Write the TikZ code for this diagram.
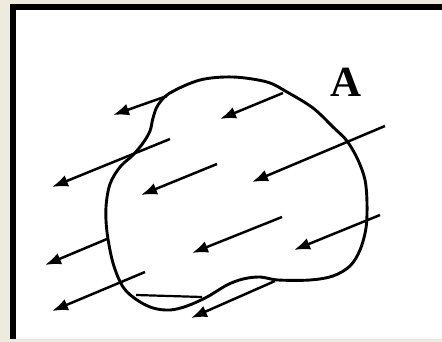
\documentclass[tikz,border=0pt]{standalone}
\usepackage{fontspec}
\setmainfont{Liberation Serif}
\usetikzlibrary{arrows.meta}
\definecolor{beige}{RGB}{237,234,222}
\tikzset{
  arr/.style={-{Latex[length=16pt,width=12pt]}, line width=2.5pt, black},
  outline/.style={line width=2.9pt, black, line join=round}
}
\begin{document}
\begin{tikzpicture}[x=1pt,y=-1pt]
\useasboundingbox (0,0) rectangle (442,342);
\fill[beige] (0,0) rectangle (442,342);
\fill[white] (10,4) rectangle (442,339);
\fill[black] (10,4) rectangle (16,339);
\fill[black] (10,4) rectangle (442,10);
% outline
\draw[outline] plot[smooth cycle, tension=0.55] coordinates {
(233,77) (267,82) (287,92) (313,108) (333,127) (347,141) (358,160) (365,180)
(367,203) (366,228) (360,250) (350,266) (333,276) (310,280) (278,280)
(260,277) (243,279) (227,285) (207,297) (187,306) (170,310) (153,308)
(137,300) (123,287) (113,263) (107,232) (106,207) (110,184) (120,167)
(133,155) (143,143) (150,131) (153,118) (158,105) (170,93) (200,80)};
\coordinate (c1) at (136,295);
\coordinate (c2) at (202,297);
\draw[line width=2.2pt] (c1) -- (c2);
% arrows
\coordinate (t1) at (167,96);  \coordinate (h1) at (113,115);
\coordinate (t2) at (283,93);  \coordinate (h2) at (220,119);
\coordinate (t3) at (385,126); \coordinate (h3) at (252,182);
\coordinate (t4) at (170,139); \coordinate (h4) at (52,187);
\coordinate (t5) at (217,164); \coordinate (h5) at (141,195);
\coordinate (t6) at (282,217); \coordinate (h6) at (192,253);
\coordinate (t7) at (380,215); \coordinate (h7) at (294,250);
\coordinate (t8) at (107,239); \coordinate (h8) at (45,265);
\coordinate (t9) at (145,272); \coordinate (h9) at (52,311);
\coordinate (t10) at (275,281); \coordinate (h10) at (191,318);
\foreach \i in {1,...,10} {\draw[arr] (t\i) -- (h\i);}
\node[anchor=base, inner sep=0pt, font=\fontsize{43}{43}\selectfont\bfseries] (A) at (346.5,97) {A};
\end{tikzpicture}
\end{document}
